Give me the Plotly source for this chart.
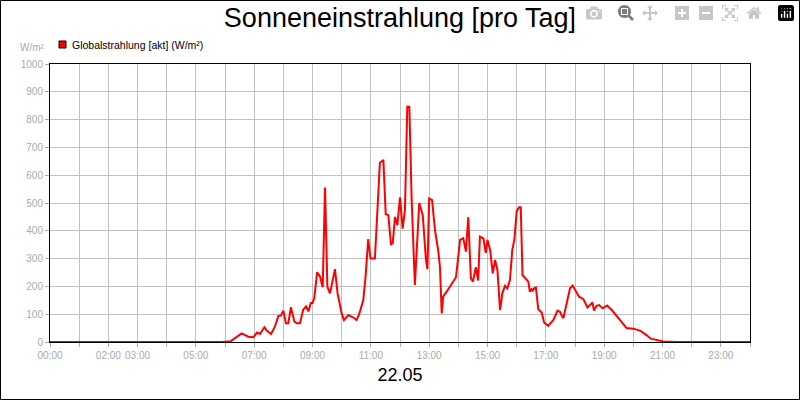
import plotly.graph_objects as go

hours = [0, 5.9, 6.2, 6.57, 6.8, 6.97, 7.1, 7.2, 7.35, 7.43, 7.58, 7.71, 7.83, 7.92, 8.0, 8.09, 8.17, 8.26, 8.38, 8.47, 8.57,
         8.68, 8.78, 8.86, 8.94, 9.0, 9.06, 9.16, 9.26, 9.35, 9.43, 9.51, 9.6, 9.68, 9.77, 9.86, 10.0, 10.08, 10.23,
         10.4, 10.51, 10.6, 10.74, 10.82, 10.91, 10.99, 11.14, 11.31, 11.43, 11.51, 11.6, 11.69, 11.75, 11.83, 11.91,
         12.0, 12.09, 12.17, 12.25, 12.32, 12.4, 12.51, 12.66, 12.78, 12.89, 12.94, 13.0, 13.1, 13.2, 13.31, 13.37,
         13.43, 13.48, 13.6, 13.77, 13.92, 14.06, 14.17, 14.26, 14.34, 14.43, 14.5, 14.6, 14.68, 14.74, 14.86, 14.94,
         15.0, 15.09, 15.18, 15.26, 15.34, 15.43, 15.51, 15.6, 15.68, 15.77, 15.85, 15.92, 16.0, 16.08, 16.14, 16.2,
         16.29, 16.4, 16.45, 16.51, 16.55, 16.6, 16.66, 16.74, 16.86, 16.94, 17.08, 17.26, 17.4, 17.48, 17.6, 17.71,
         17.83, 17.92, 18.0, 18.14, 18.29, 18.43, 18.6, 18.65, 18.74, 18.83, 18.95, 19.1, 19.26, 19.48, 19.77, 20.0,
         20.25, 20.46, 20.6, 21.02, 21.5, 24]
values = [0, 0, 3, 31, 19, 17, 34, 29, 53, 41, 29, 55, 94, 95, 113, 67, 67, 125, 73, 67, 67,
          116, 128, 110, 140, 140, 158, 251, 235, 197, 556, 199, 175, 223, 262, 175, 103, 79, 97,
          88, 79, 100, 150, 235, 370, 300, 300, 645, 655, 460, 456, 352, 355, 450, 420,
          520, 408, 474, 846, 846, 510, 205, 500, 456, 295, 262, 516, 510, 402, 330, 270,
          103, 163, 181, 211, 233, 367, 373, 325, 449, 229, 217, 269, 221, 379, 373, 321,
          367, 331, 247, 295, 259, 115, 175, 202, 193, 223, 331, 367, 469, 485, 485, 241,
          229, 217, 181, 190, 185, 193, 196, 118, 106, 70, 58, 79, 113, 109, 85, 139,
          193, 203, 187, 163, 154, 124, 142, 113, 130, 133, 121, 131, 115, 88, 50, 48,
          40, 24, 12, 2, 0, 0]
tick_hours = list(range(25))
tick_labels = {0: "00:00", 2: "02:00", 3: "03:00", 5: "05:00", 7: "07:00", 9: "09:00", 11: "11:00",
               13: "13:00", 15: "15:00", 17: "17:00", 19: "19:00", 21: "21:00", 23: "23:00"}

fig = go.Figure(go.Scatter(x=hours, y=values, mode="lines", line=dict(color="#ff0000", width=2),
                           name="Globalstrahlung [akt] (W/m²)", showlegend=False))
fig.update_layout(
    width=800, height=400, margin=dict(l=50, r=50, t=64, b=58),
    paper_bgcolor="white", plot_bgcolor="white",
    font=dict(family="Liberation Sans, Arial", color="#aaaaaa", size=10),
    title=dict(text="Sonneneinstrahlung [pro Tag]", x=0.5, xanchor="center", y=0.955, yanchor="middle",
               font=dict(size=27, color="black")),
    xaxis=dict(range=[0, 24], tickvals=tick_hours, ticktext=[tick_labels.get(h, "") for h in tick_hours],
               showgrid=True, gridcolor="#c0c0c0", gridwidth=1, ticks="outside", ticklen=4, tickcolor="#aaaaaa",
               showline=True, linecolor="black", linewidth=1, mirror=True, zeroline=False,
               tickfont=dict(size=10, color="#aaaaaa"),
               title=dict(text="22.05", font=dict(size=18, color="black"), standoff=8)),
    yaxis=dict(range=[0, 1000], dtick=100, showgrid=True, gridcolor="#c0c0c0", gridwidth=1,
               ticks="outside", ticklen=4, tickcolor="#aaaaaa", showline=True, linecolor="black",
               linewidth=1, mirror=True, zeroline=False, tickfont=dict(size=10, color="#aaaaaa")),
    shapes=[
        dict(type="rect", xref="paper", yref="paper", x0=-49.5/700, x1=749.5/700, y0=-57.5/278, y1=341.5/278,
             line=dict(color="black", width=1)),
        dict(type="rect", xref="paper", yref="paper", x0=9/700, x1=16/700, y0=(342-48)/278, y1=(342-41)/278,
             fillcolor="#ff0000", line=dict(color="black", width=1)),
    ],
    annotations=[
        dict(text="Globalstrahlung [akt] (W/m²)", xref="paper", yref="paper", x=20/700, y=(342-44.5)/278,
             xanchor="left", yanchor="middle", showarrow=False, font=dict(size=10.5, color="black")),
        dict(text="W/m²", xref="paper", yref="paper", x=-3/700, y=(342-48)/278,
             xanchor="right", yanchor="middle", showarrow=False, font=dict(size=10, color="#aaaaaa")),
    ],
)
fig.write_html("out.html", post_script="document.body.style.margin='0';")
